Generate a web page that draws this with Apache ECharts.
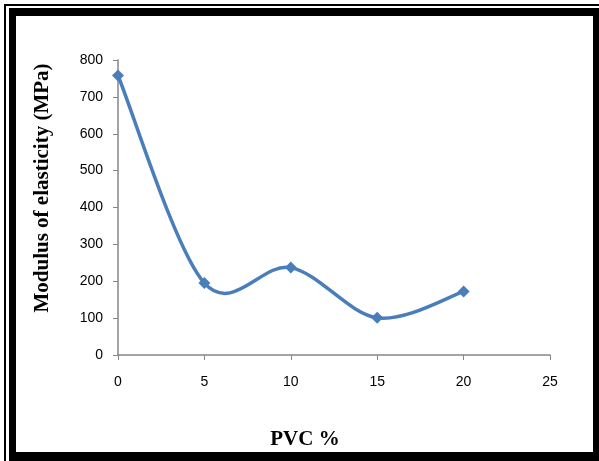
<!DOCTYPE html>
<html><head><meta charset="utf-8">
<script src="https://cdn.jsdelivr.net/npm/echarts@6/dist/echarts.min.js"></script>
<style>html,body{margin:0;padding:0;background:#fff}#c{width:599px;height:461px}</style>
</head><body><div id="c"></div>
<script>
const pvc = [0, 5, 10, 15, 20];
const modulus = [758, 195, 237, 101, 172];
const xTicks = [0, 5, 10, 15, 20, 25];
const yTicks = [0, 100, 200, 300, 400, 500, 600, 700, 800];
const xTitle = 'PVC %';
const yTitle = 'Modulus of elasticity (MPa)';
const lineColor = '#4a7ebb';

const pts = pvc.map((x, i) => [x, modulus[i]]);

function renderSegment(params, api) {
  const i = params.dataIndex;
  const n = pts.length;
  if (i >= n - 1) return null;
  const c = k => api.coord(pts[Math.max(0, Math.min(n - 1, k))]);
  const p0 = c(i - 1), p1 = c(i), p2 = c(i + 1), p3 = c(i + 2);
  const t = 1 / 6;
  return {
    type: 'bezierCurve',
    shape: {
      x1: p1[0], y1: p1[1], x2: p2[0], y2: p2[1],
      cpx1: p1[0] + (p2[0] - p0[0]) * t, cpy1: p1[1] + (p2[1] - p0[1]) * t,
      cpx2: p2[0] - (p3[0] - p1[0]) * t, cpy2: p2[1] - (p3[1] - p1[1]) * t
    },
    style: {fill: null, stroke: lineColor, lineWidth: 3.5, lineCap: 'round'}
  };
}

const chart = echarts.init(document.getElementById('c'), null, {renderer: 'canvas'});
chart.setOption({
  backgroundColor: '#fff',
  animation: false,
  grid: {left: 118, right: 49, top: 60, bottom: 106},
  xAxis: {
    type: 'value', min: xTicks[0], max: xTicks[xTicks.length - 1], interval: 5,
    axisLine: {lineStyle: {color: '#868686', width: 1.5}},
    axisTick: {show: true, length: 5, lineStyle: {color: '#868686'}},
    splitLine: {show: false},
    axisLabel: {color: '#000', fontFamily: 'Liberation Sans', fontSize: 14, margin: 20}
  },
  yAxis: {
    type: 'value', min: yTicks[0], max: yTicks[yTicks.length - 1], interval: 100,
    axisLine: {show: true, lineStyle: {color: '#868686', width: 1.5}},
    axisTick: {show: true, length: 5, lineStyle: {color: '#868686'}},
    splitLine: {show: false},
    axisLabel: {color: '#000', fontFamily: 'Liberation Sans', fontSize: 14, margin: 15}
  },
  graphic: [
    {type: 'rect', shape: {x: 4, y: 4, width: 595, height: 2}, style: {fill: '#000'}, z: 10},
    {type: 'rect', shape: {x: 4, y: 4, width: 2, height: 457}, style: {fill: '#000'}, z: 10},
    {type: 'rect', shape: {x: 9, y: 8, width: 590, height: 8}, style: {fill: '#000'}, z: 10},
    {type: 'rect', shape: {x: 9, y: 8, width: 7, height: 453}, style: {fill: '#000'}, z: 10},
    {type: 'rect', shape: {x: 593, y: 8, width: 6, height: 453}, style: {fill: '#000'}, z: 10},
    {type: 'rect', shape: {x: 9, y: 452, width: 590, height: 9}, style: {fill: '#000'}, z: 10},
    {type: 'text', x: 305, y: 440, style: {text: xTitle, font: 'bold 21px "Liberation Serif"', fill: '#000', textAlign: 'center', textVerticalAlign: 'middle'}},
    {type: 'text', x: 43, y: 188, rotation: Math.PI / 2, style: {text: yTitle, font: 'bold 21px "Liberation Serif"', fill: '#000', textAlign: 'center', textVerticalAlign: 'middle'}}
  ],
  series: [{
    type: 'custom',
    renderItem: renderSegment,
    data: pts,
    z: 2
  }, {
    type: 'line',
    data: pts,
    symbol: 'diamond',
    symbolSize: 12,
    itemStyle: {color: lineColor},
    lineStyle: {width: 0, opacity: 0},
    z: 3
  }]
});
</script></body></html>
